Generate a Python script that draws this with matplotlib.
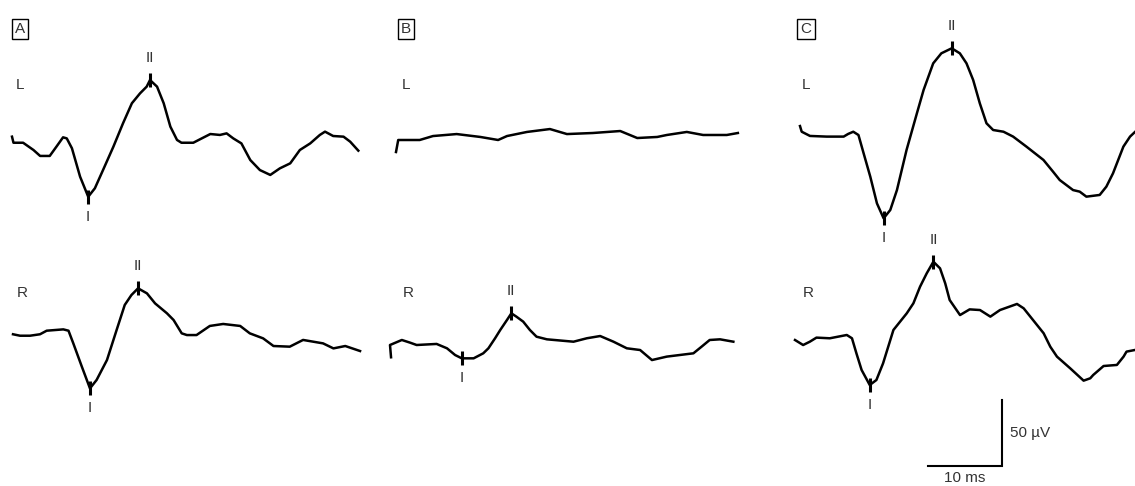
import matplotlib.pyplot as plt

# Scale: 10 ms horizontal bar, 50 uV vertical bar
PX_PER_MS = 7.4
PX_PER_UV = 1.32
W, H = 1135, 486

# Traces: time (ms) and amplitude (uV) relative to trace start
a_left_t = [0, 0.2, 1.5, 2.9, 3.8, 5.1, 6.0, 6.9, 7.4, 8.1, 9.2, 10.3, 11.2, 12.3, 13.7,
            15.0, 16.2, 17.3, 18.2, 18.65, 19.6, 20.5, 21.4, 22.3, 22.9, 24.5, 25.4, 26.8,
            28.1, 29.0, 29.9, 31.0, 32.2, 33.5, 34.9, 36.2, 37.6, 38.9, 40.3, 41.6, 42.3,
            43.4, 44.8, 45.7, 46.8]
a_left_uv = [4.8, 0.2, 0.2, -5.3, -9.8, -9.8, -2.8, 4.3, 3.5, -4.0, -25.5, -40.7, -34.3,
             -20.5, -2.8, 14.9, 30.1, 37.6, 42.7, 47.7, 42.7, 30.1, 12.4, 2.3, 0.2, 0.2, 2.8,
             6.8, 6.1, 7.3, 3.5, -0.3, -12.9, -20.5, -24.2, -19.2, -15.4, -5.3, -0.3, 6.1,
             8.6, 5.3, 4.8, 1.0, -5.8]
a_right_t = [0, 0.95, 2.3, 3.65, 4.55, 6.8, 7.5, 8.15, 9.3, 10.4, 11.3, 12.7, 14.0, 15.1,
             16.0, 16.9, 18.1, 19.2, 20.8, 21.7, 22.8, 23.5, 24.8, 26.6, 28.4, 30.7, 32.0,
             33.8, 35.2, 37.4, 39.2, 41.9, 43.3, 44.9, 46.9]
a_right_uv = [-0.2, -1.3, -1.3, -0.2, 2.5, 3.5, 2.5, -7.1, -24.7, -41.2, -34.8, -19.7, 3.0,
              22.0, 29.5, 34.6, 30.8, 23.2, 15.7, 10.6, 0.5, -0.8, -0.8, 6.1, 7.6, 6.1, 0.5,
              -3.3, -9.1, -9.6, -4.5, -7.1, -10.9, -9.1, -12.9]
b_left_t = [0, 0.3, 3.2, 5.0, 8.2, 11.4, 13.8, 15.0, 17.7, 20.8, 23.1, 26.6, 30.3, 32.6, 35.3,
            36.6, 39.3, 41.5, 44.7, 46.2]
b_left_uv = [-9.1, 0, 0, 3.0, 4.5, 2.3, 0, 3.0, 6.1, 8.3, 4.5, 5.3, 6.8, 1.5, 2.3,
             3.8, 6.1, 3.8, 3.8, 5.3]
b_right_t = [0.14, 0, 1.6, 2.7, 3.6, 6.3, 7.7, 8.8, 9.7, 11.3, 12.6, 13.3, 14.2, 14.9, 15.8,
             16.4, 17.1, 18.0, 18.9, 19.8, 21.2, 24.8, 26.6, 28.4, 30.2, 32.0, 33.8, 35.4,
             37.4, 41.0, 42.1, 43.2, 44.6, 46.4]
b_right_uv = [-9.3, 0, 3.8, 1.8, 0, 0.8, -2.5, -7.6, -10.1, -10.1, -6.3, -2.5, 5.1, 11.4,
              18.9, 24.0, 21.4, 17.7, 11.4, 6.3, 4.3, 2.5, 5.1, 6.8, 2.5, -2.5, -3.8, -11.4,
              -8.8, -6.3, -1.3, 3.8, 4.3, 2.5]
c_left_t = [0, 0.23, 1.35, 3.6, 5.9, 6.5, 7.2, 7.9, 8.6, 9.5, 10.4, 11.3, 12.2, 13.1, 14.4,
            15.8, 16.7, 18.0, 19.1, 20.5, 21.6, 22.5, 23.4, 24.3, 25.2, 26.1, 27.5, 28.8,
            30.6, 32.9, 34.2, 35.1, 36.9, 37.8, 38.7, 40.5, 41.4, 42.3, 43.7, 44.6, 45.3]
c_left_uv = [8.3, 4.0, 0.8, 0.3, 0.3, 2.3, 4.0, 1.5, -12.4, -30.1, -50.3, -61.6, -55.3,
             -40.2, -9.8, 18.0, 35.6, 55.8, 63.4, 67.2, 63.4, 55.8, 43.2, 25.5, 10.4, 5.3,
             4.0, 0.3, -7.3, -17.4, -26.3, -32.6, -40.2, -41.4, -45.2, -43.9, -37.6, -27.5,
             -7.3, 0.3, 4.0]
c_right_t = [0, 1.1, 2.0, 2.9, 4.7, 7.0, 7.7, 8.3, 9.0, 10.1, 11.0, 11.9, 13.3, 15.1, 16.0,
             16.9, 17.8, 18.7, 19.6, 20.3, 20.9, 22.3, 23.6, 25.0, 26.4, 27.7, 30.0, 30.9,
             31.8, 33.6, 34.5, 35.4, 37.2, 39.0, 39.9, 40.3, 41.7, 43.5, 44.4, 44.8, 45.9]
c_right_uv = [0, -3.8, -1.3, 1.8, 1.3, 3.8, 1.3, -10.1, -22.7, -34.1, -30.3, -17.7, 7.6,
              20.2, 27.8, 40.4, 50.5, 59.3, 54.3, 42.9, 30.3, 18.9, 23.2, 22.7, 17.7, 22.7,
              27.3, 24.0, 17.7, 5.1, -5.1, -12.6, -21.5, -30.8, -29.0, -26.5, -19.7, -18.9,
              -12.6, -8.8, -7.6]

# index of wave I and wave II in each trace (None = absent)
a_left_waves = [11, 19]
a_right_waves = [9, 15]
b_left_waves = [None, None]
b_right_waves = [8, 15]
c_left_waves = [11, 19]
c_right_waves = [9, 17]

panel_names = ["A", "B", "C"]
side_names = ["L", "R"]
wave_names = ["I", "II"]

fig = plt.figure(figsize=(W / 100, H / 100), dpi=100)
ax = fig.add_axes([0, 0, 1, 1])
ax.set_xlim(0, W / PX_PER_MS)
ax.set_ylim(-H / PX_PER_UV, 0)
ax.axis("off")

FONT = ["Liberation Sans Narrow", "Liberation Sans", "DejaVu Sans"]
TXT = "#333333"


def px(x, y):
    # layout position in pixels -> data units
    return x / PX_PER_MS, -y / PX_PER_UV


traces = [
    (a_left_t, a_left_uv, a_left_waves, (12, 143)),
    (a_right_t, a_right_uv, a_right_waves, (13, 334)),
    (b_left_t, b_left_uv, b_left_waves, (396, 140)),
    (b_right_t, b_right_uv, b_right_waves, (390, 345)),
    (c_left_t, c_left_uv, c_left_waves, (800, 137)),
    (c_right_t, c_right_uv, c_right_waves, (795, 340)),
]

for t, uv, waves, origin in traces:
    ox, oy = px(*origin)
    xs = [ox + v for v in t]
    ys = [oy + v for v in uv]
    ax.plot(xs, ys, color="black", lw=1.8, solid_joinstyle="round", clip_on=False)
    for k, idx in enumerate(waves):
        if idx is None:
            continue
        ax.plot(xs[idx], ys[idx], marker="|", ms=10, mew=2.2, color="black")
        off = -20 / PX_PER_UV if k == 0 else 22 / PX_PER_UV
        ax.text(xs[idx], ys[idx] + off, wave_names[k], ha="center", va="center",
                fontsize=11, color=TXT, family=FONT)

# panel letters and side labels
panel_x = [20, 406, 806]
for name, x in zip(panel_names, panel_x):
    ax.text(*px(x, 29), name, ha="center", va="center", fontsize=11, color=TXT, family=FONT,
            bbox=dict(boxstyle="square,pad=0.2", fc="white", ec="black", lw=1))
    ax.text(*px(x, 85), side_names[0], ha="center", va="center", fontsize=11, color=TXT, family=FONT)
    ax.text(*px(x + 2, 293), side_names[1], ha="center", va="center", fontsize=11, color=TXT, family=FONT)

# scale bar
sx, sy = px(1002, 466)
ax.plot([sx - 10, sx, sx], [sy, sy, sy + 50], color="black", lw=1.5, solid_joinstyle="miter")
ax.text(sx - 5, sy - 12 / PX_PER_UV, "10 ms", ha="center", va="center", fontsize=11, color=TXT, family=FONT)
ax.text(sx + 1.1, sy + 25, "50 \u00b5V", ha="left", va="center", fontsize=11, color=TXT, family=FONT)

fig.savefig("out.png", dpi=100, facecolor="white")
